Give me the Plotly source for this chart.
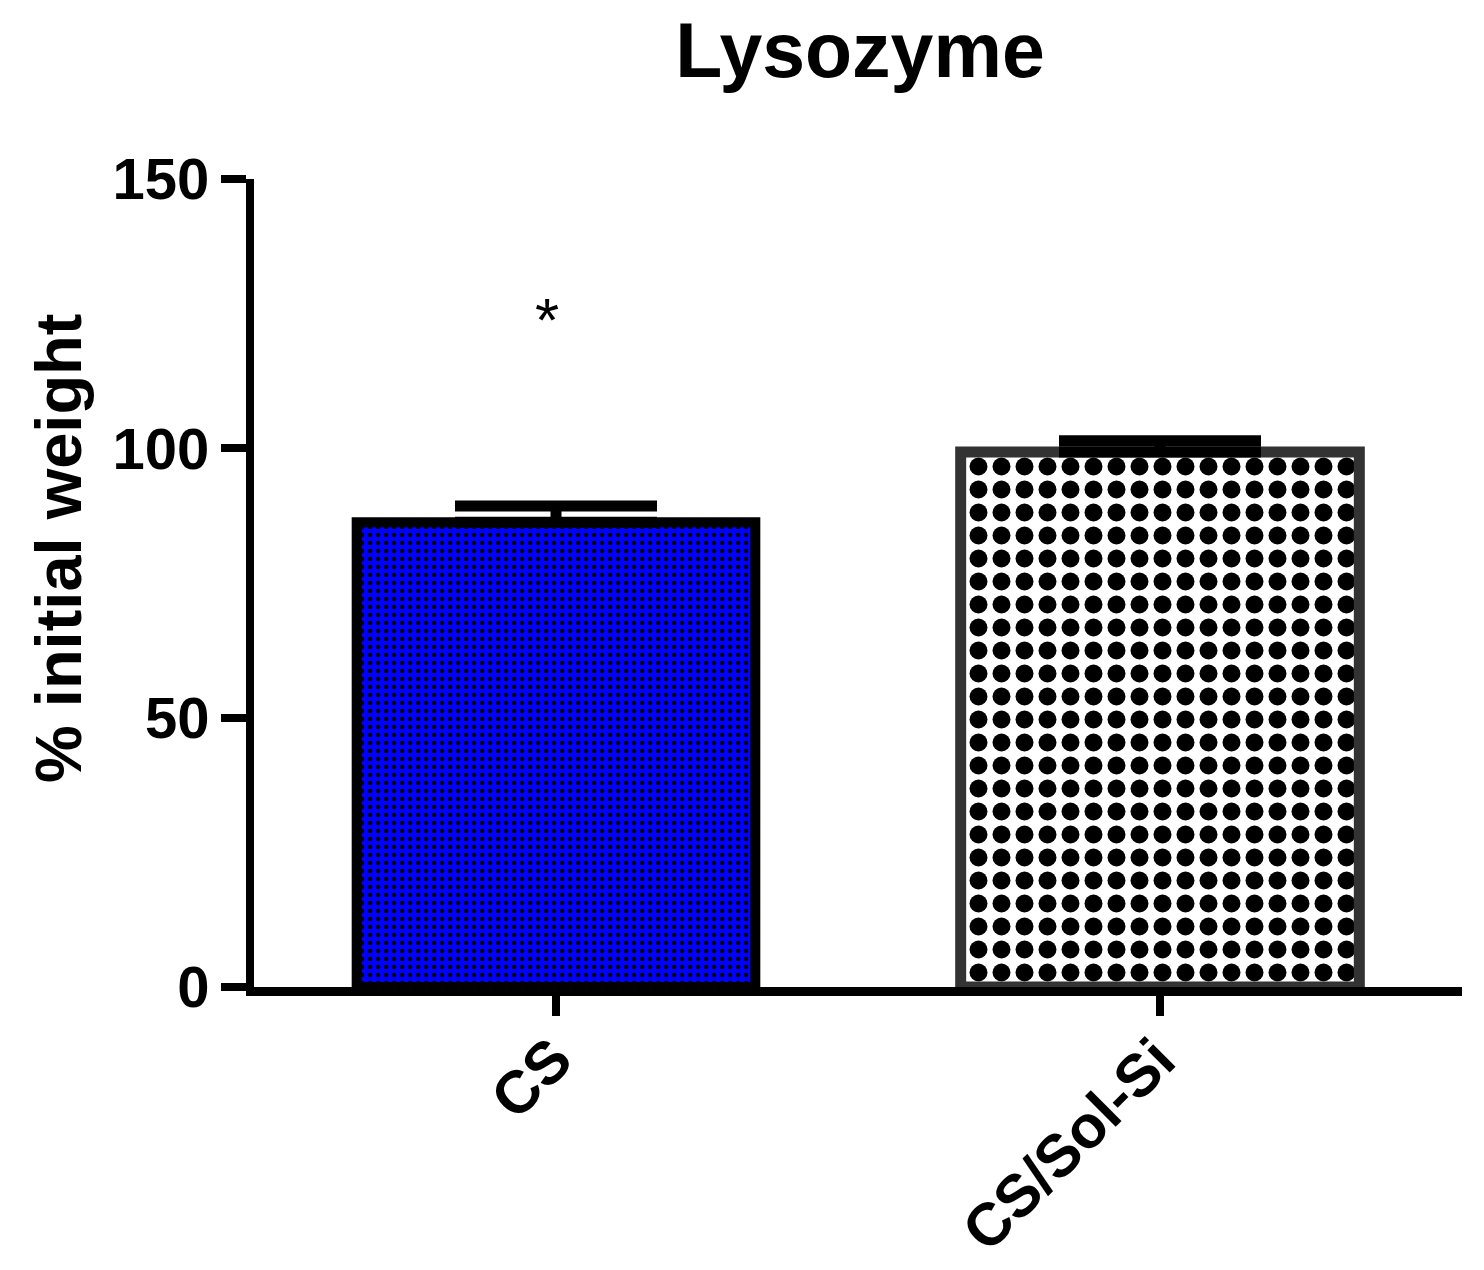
import plotly.graph_objects as go

categories = ["CS", "CS/Sol-Si"]
values = [86.3, 99.3]
errors_up = [3.0, 2.1]
errors_down = [0, 0]
sig_label = "*"
sig_y = 124
y_ticks = [0, 50, 100, 150]

FONT = "Arial, Liberation Sans, Helvetica, sans-serif"

# page has an 8px body margin; figure sized to fit the 1484x1270 window
W, H = 1476, 1262
OFF = 8
PL, PR, PT, PB = 254, 1462, 179, 987  # target plot-area edges in page pixels

fig = go.Figure()
fig.add_trace(go.Bar(
    x=[categories[0]], y=[values[0]],
    width=0.66,
    marker=dict(
        color="#0000FF",
        line=dict(color="black", width=10),
        pattern=dict(shape=".", bgcolor="#0000FF", fgcolor="black",
                     size=8, solidity=0.24, fillmode="replace"),
    ),
    error_y=dict(type="data", symmetric=False, array=[errors_up[0]],
                 arrayminus=[errors_down[0]], color="black",
                 thickness=11, width=101),
    showlegend=False,
))
fig.add_trace(go.Bar(
    x=[categories[1]], y=[values[1]],
    width=0.66,
    marker=dict(
        color="white",
        line=dict(color="#333333", width=11),
        pattern=dict(shape=".", bgcolor="white", fgcolor="black",
                     size=23, solidity=0.48, fillmode="replace"),
    ),
    error_y=dict(type="data", symmetric=False, array=[errors_up[1]],
                 arrayminus=[errors_down[1]], color="black",
                 thickness=11, width=101),
    showlegend=False,
))

fig.add_annotation(x=categories[0], y=sig_y, text=sig_label, showarrow=False,
                   xshift=-9,
                   font=dict(family=FONT, size=62, color="black"),
                   xref="x", yref="y")

# rotated category labels
for cat in categories:
    fig.add_annotation(x=cat, xref="x", y=-(1023 - PB) / (PB - PT),
                       yref="paper", text="<b>%s</b>" % cat, textangle=-45,
                       xanchor="right", yanchor="top", xshift=31, showarrow=False,
                       font=dict(family=FONT, size=60, color="black"))

fig.add_annotation(text="<b>% initial weight</b>", textangle=-90,
                   xref="paper", yref="paper",
                   x=(58 - PL) / (PR - PL), y=(PB - 549) / (PB - PT),
                   xanchor="center", yanchor="middle", showarrow=False,
                   font=dict(family=FONT, size=65, color="black"))

fig.update_layout(
    width=W, height=H,
    margin=dict(l=PL - OFF, r=W + OFF - PR, t=PT - OFF, b=H + OFF - PB,
                autoexpand=False),
    plot_bgcolor="white", paper_bgcolor="white",
    barmode="overlay",
    title=dict(text="<b>Lysozyme</b>", x=(860 - OFF) / W, xanchor="center",
               y=1 - (50 - OFF) / H, yanchor="middle",
               font=dict(family=FONT, size=77, color="black")),
    font=dict(family=FONT, color="black"),
)
fig.update_xaxes(
    categoryorder="array", categoryarray=categories,
    showline=True, linecolor="black", linewidth=9,
    ticks="outside", ticklen=20, tickwidth=8, tickcolor="black",
    showticklabels=False, automargin=False,
    showgrid=False, zeroline=False,
)
fig.update_yaxes(
    range=[0, 150], tickvals=y_ticks, automargin=False,
    showline=True, linecolor="black", linewidth=8,
    ticks="outside", ticklen=25, tickwidth=8, tickcolor="black",
    tickfont=dict(family=FONT, size=58, color="black", weight="bold"),
    showgrid=False, zeroline=False,
)

fig.write_html("out.html")
